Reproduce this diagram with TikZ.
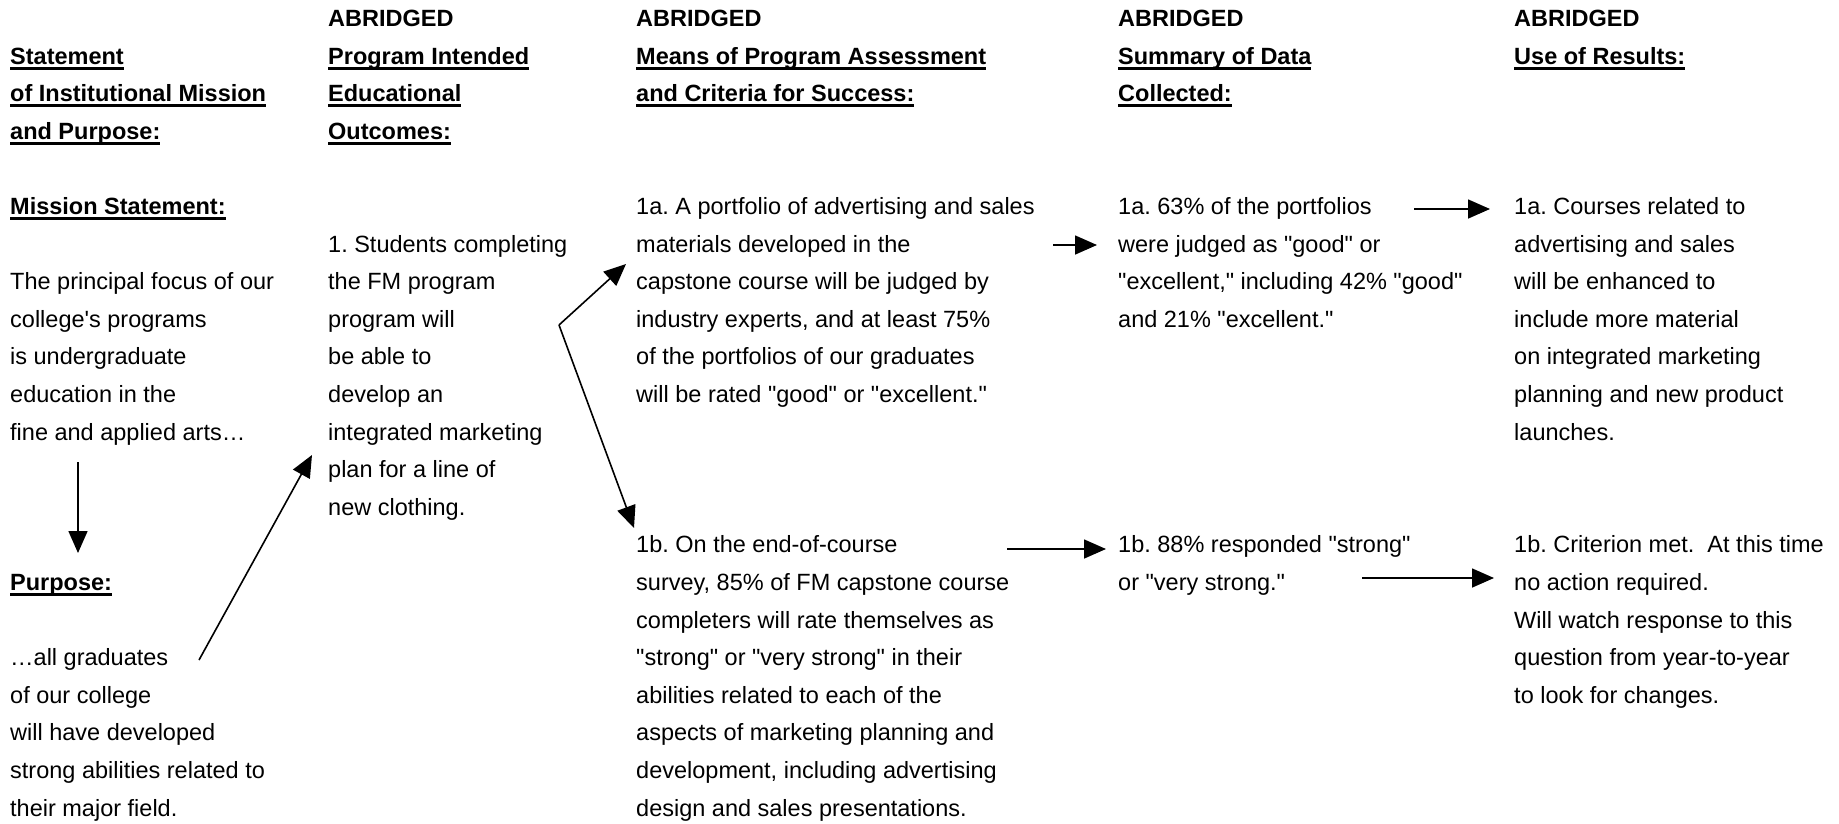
\documentclass[tikz,border=0pt]{standalone}
\usepackage{fontspec}
\setmainfont{Liberation Sans}[Ligatures=TeXOff]
\usetikzlibrary{arrows.meta}

\newcommand{\hdul}[1]{\setbox0=\hbox{#1}\rlap{\rule[-5.5pt]{\wd0}{2.8pt}}\box0}

\begin{document}
\frenchspacing
\begin{tikzpicture}[x=1pt,y=-1pt,
    txt/.style={anchor=north west,inner sep=0pt,align=left,
        font=\fontsize{23.5}{37.6}\selectfont},
    hd/.style={txt,font=\fontsize{23.5}{37.6}\selectfont\bfseries},
    arr/.style={line width=1.6pt,-{Triangle[length=22pt,width=19pt]}}]

    \useasboundingbox (0,0) rectangle (1839,823);

    % column 1
    \node [hd]  (stmthead) at (10,37.6)  {\strut\hdul{Statement}\\\hdul{of Institutional Mission}\\\hdul{and Purpose:}};
    \node [hd]  (misshead) at (10,188)   {\strut\hdul{Mission Statement:}};
    \node [txt] (misstext) at (10,263.2) {\strut The principal focus of our\\college's programs\\is undergraduate\\education in the\\fine and applied arts…};
    \node [hd]  (purphead) at (10,564)   {\strut\hdul{Purpose:}};
    \node [txt] (purptext) at (10,639.2) {\strut…all graduates\\of our college\\will have developed\\strong abilities related to\\their major field.};

    % column 2
    \node [hd]  (outchead) at (328,0)     {\strut ABRIDGED\\\hdul{Program Intended}\\\hdul{Educational}\\\hdul{Outcomes:}};
    \node [txt] (outctext) at (328,225.6) {\strut 1. Students completing\\the FM program\\program will\\be able to\\develop an\\integrated marketing\\plan for a line of\\new clothing.};

    % column 3
    \node [hd]  (meanhead) at (636,0)   {\strut ABRIDGED\\\hdul{Means of Program Assessment}\\\hdul{and Criteria for Success:}};
    \node [txt] (meana)    at (636,188) {\strut 1a. A portfolio of advertising and sales\\materials developed in the\\capstone course will be judged by\\industry experts, and at least 75\%\\of the portfolios of our graduates\\will be rated "good" or "excellent."};
    \node [txt] (meanb)    at (636,526.4) {\strut 1b. On the end-of-course\\survey, 85\% of FM capstone course\\completers will rate themselves as\\"strong" or "very strong" in their\\abilities related to each of the\\aspects of marketing planning and\\development, including advertising\\design and sales presentations.};

    % column 4
    \node [hd]  (datahead) at (1118,0)   {\strut ABRIDGED\\\hdul{Summary of Data}\\\hdul{Collected:}};
    \node [txt] (dataa)    at (1118,188) {\strut 1a. 63\% of the portfolios\\were judged as "good" or\\"excellent," including 42\% "good"\\and 21\% "excellent."};
    \node [txt] (datab)    at (1118,526.4) {\strut 1b. 88\% responded "strong"\\or "very strong."};

    % column 5
    \node [hd]  (usehead) at (1514,0)   {\strut ABRIDGED\\\hdul{Use of Results:}};
    \node [txt] (usea)    at (1514,188) {\strut 1a. Courses related to\\advertising and sales\\will be enhanced to\\include more material\\on integrated marketing\\planning and new product\\launches.};
    \node [txt] (useb)    at (1514,526.4) {\strut 1b. Criterion met.\ \ At this time\\no action required.\\Will watch response to this\\question from year-to-year\\to look for changes.};

    % arrow ends
    \coordinate (missend)  at (78,462);
    \coordinate (purptop)  at (78,553);
    \coordinate (purpend)  at (199,660);
    \coordinate (outcin)   at (312,455);
    \coordinate (split)    at (559,325);
    \coordinate (meanain)  at (626,264);
    \coordinate (meanbin)  at (634,528);
    \coordinate (meanaout) at (1053,245);
    \coordinate (dataain)  at (1097,245);
    \coordinate (dataaout) at (1414,209);
    \coordinate (useain)   at (1490,209);
    \coordinate (meanbout) at (1007,549);
    \coordinate (databin)  at (1106,549);
    \coordinate (databout) at (1362,578);
    \coordinate (usebin)   at (1494,578);

    \draw [arr] (missend) -- (purptop);
    \draw [arr] (purpend) -- (outcin);
    \draw [arr] (split) -- (meanain);
    \draw [arr] (split) -- (meanbin);
    \draw [arr] (meanaout) -- (dataain);
    \draw [arr] (dataaout) -- (useain);
    \draw [arr] (meanbout) -- (databin);
    \draw [arr] (databout) -- (usebin);

\end{tikzpicture}
\end{document}
